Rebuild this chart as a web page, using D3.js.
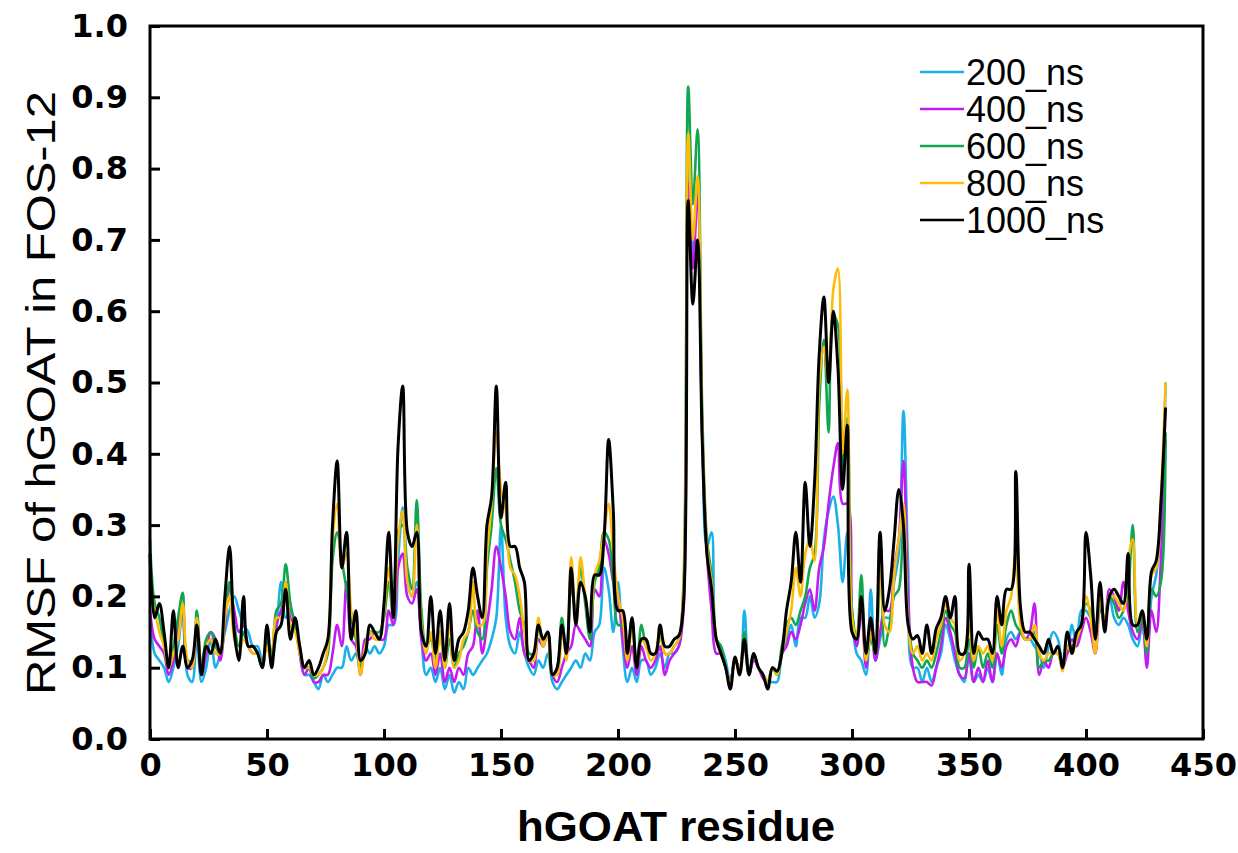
<!DOCTYPE html>
<html>
<head>
<meta charset="utf-8">
<script src="https://cdn.jsdelivr.net/npm/d3@7"></script>
<style>
  body { margin: 0; background: #fff; }
</style>
</head>
<body>
<div id="chart"></div>
<script>
// residues sampled every 2 along the sequence
const residues = d3.range(0, 435, 2);

const ns200 = [
  0.17,0.12,0.11,0.10,0.08,0.10,0.13,0.18,0.09,0.08,
  0.14,0.08,0.10,0.14,0.10,0.12,0.15,0.18,0.20,0.18,
  0.16,0.15,0.13,0.13,0.11,0.13,0.11,0.15,0.22,0.17,
  0.18,0.16,0.12,0.09,0.09,0.08,0.07,0.09,0.08,0.09,
  0.10,0.10,0.13,0.11,0.12,0.10,0.13,0.12,0.13,0.12,
  0.13,0.16,0.16,0.25,0.325,0.22,0.20,0.22,0.14,0.09,
  0.10,0.08,0.10,0.07,0.09,0.065,0.08,0.07,0.10,0.09,
  0.10,0.11,0.12,0.14,0.17,0.30,0.17,0.13,0.12,0.15,
  0.12,0.10,0.09,0.11,0.10,0.12,0.08,0.07,0.08,0.09,
  0.10,0.11,0.10,0.12,0.11,0.15,0.16,0.24,0.21,0.15,
  0.22,0.13,0.08,0.10,0.08,0.11,0.11,0.09,0.10,0.12,
  0.10,0.12,0.12,0.13,0.20,0.80,0.68,0.78,0.43,0.27,
  0.29,0.14,0.13,0.11,0.08,0.11,0.10,0.18,0.09,0.12,
  0.10,0.09,0.08,0.08,0.08,0.12,0.14,0.16,0.13,0.17,
  0.17,0.20,0.17,0.19,0.28,0.32,0.34,0.30,0.22,0.29,
  0.17,0.12,0.11,0.09,0.21,0.11,0.14,0.17,0.17,0.22,
  0.26,0.46,0.24,0.10,0.10,0.08,0.10,0.08,0.10,0.12,
  0.16,0.14,0.11,0.09,0.08,0.12,0.08,0.09,0.08,0.10,
  0.08,0.12,0.09,0.14,0.15,0.14,0.15,0.14,0.14,0.13,
  0.12,0.10,0.13,0.15,0.14,0.11,0.12,0.16,0.13,0.18,
  0.18,0.17,0.16,0.18,0.17,0.20,0.17,0.16,0.17,0.16,
  0.14,0.13,0.16,0.12,0.20,0.23,0.30,0.50
];

const ns400 = [
  0.18,0.14,0.13,0.12,0.09,0.11,0.16,0.19,0.10,0.10,
  0.17,0.09,0.12,0.15,0.14,0.11,0.16,0.21,0.18,0.15,
  0.16,0.13,0.12,0.12,0.10,0.14,0.11,0.16,0.18,0.20,
  0.17,0.16,0.12,0.09,0.10,0.08,0.08,0.09,0.09,0.12,
  0.16,0.13,0.22,0.14,0.13,0.09,0.14,0.14,0.15,0.14,
  0.14,0.18,0.16,0.24,0.26,0.20,0.19,0.21,0.14,0.11,
  0.12,0.09,0.12,0.08,0.10,0.08,0.10,0.09,0.12,0.13,
  0.18,0.12,0.16,0.21,0.27,0.24,0.20,0.15,0.14,0.17,
  0.12,0.11,0.10,0.14,0.13,0.15,0.09,0.08,0.10,0.12,
  0.13,0.16,0.15,0.14,0.13,0.21,0.20,0.28,0.26,0.22,
  0.20,0.14,0.10,0.13,0.09,0.13,0.11,0.10,0.11,0.13,
  0.09,0.11,0.12,0.13,0.18,0.78,0.66,0.76,0.42,0.26,
  0.18,0.12,0.12,0.10,0.08,0.11,0.10,0.13,0.09,0.11,
  0.10,0.085,0.08,0.10,0.09,0.12,0.13,0.15,0.14,0.16,
  0.19,0.21,0.18,0.24,0.27,0.33,0.38,0.415,0.33,0.33,
  0.18,0.13,0.18,0.10,0.16,0.11,0.15,0.18,0.18,0.24,
  0.28,0.39,0.20,0.10,0.08,0.08,0.08,0.075,0.10,0.13,
  0.17,0.15,0.12,0.09,0.085,0.12,0.08,0.10,0.08,0.11,
  0.08,0.12,0.10,0.13,0.14,0.13,0.15,0.14,0.15,0.19,
  0.09,0.11,0.10,0.12,0.12,0.10,0.12,0.14,0.13,0.15,
  0.17,0.15,0.12,0.19,0.16,0.21,0.20,0.18,0.22,0.18,
  0.15,0.14,0.17,0.10,0.18,0.15,0.25,0.42
];

const ns600 = [
  0.28,0.19,0.17,0.13,0.10,0.13,0.17,0.205,0.11,0.11,
  0.18,0.10,0.14,0.15,0.13,0.12,0.17,0.22,0.16,0.13,
  0.15,0.13,0.13,0.12,0.10,0.14,0.12,0.18,0.19,0.245,
  0.19,0.16,0.13,0.10,0.10,0.085,0.09,0.10,0.12,0.25,
  0.29,0.25,0.21,0.17,0.14,0.10,0.13,0.15,0.15,0.15,
  0.17,0.22,0.17,0.29,0.30,0.24,0.21,0.335,0.18,0.13,
  0.14,0.11,0.15,0.10,0.14,0.10,0.12,0.13,0.15,0.18,
  0.15,0.14,0.24,0.30,0.38,0.30,0.28,0.25,0.22,0.18,
  0.16,0.12,0.12,0.16,0.13,0.15,0.09,0.10,0.17,0.12,
  0.21,0.18,0.24,0.19,0.14,0.22,0.24,0.29,0.28,0.22,
  0.16,0.16,0.11,0.17,0.10,0.16,0.13,0.12,0.12,0.15,
  0.12,0.12,0.13,0.14,0.22,0.915,0.75,0.855,0.46,0.28,
  0.23,0.14,0.13,0.10,0.08,0.11,0.10,0.15,0.09,0.12,
  0.10,0.09,0.08,0.10,0.09,0.13,0.16,0.17,0.16,0.18,
  0.20,0.24,0.26,0.47,0.56,0.43,0.595,0.58,0.38,0.45,
  0.18,0.14,0.23,0.11,0.14,0.12,0.29,0.13,0.16,0.20,
  0.21,0.30,0.17,0.12,0.11,0.10,0.11,0.10,0.12,0.15,
  0.18,0.16,0.15,0.10,0.10,0.14,0.10,0.13,0.10,0.12,
  0.10,0.16,0.12,0.16,0.18,0.16,0.15,0.14,0.14,0.15,
  0.10,0.11,0.11,0.12,0.12,0.10,0.13,0.13,0.14,0.16,
  0.19,0.18,0.14,0.19,0.16,0.20,0.19,0.17,0.18,0.21,
  0.30,0.15,0.17,0.12,0.21,0.20,0.22,0.43
];

const ns800 = [
  0.20,0.18,0.15,0.13,0.10,0.12,0.14,0.19,0.11,0.10,
  0.17,0.10,0.13,0.14,0.12,0.12,0.17,0.20,0.14,0.12,
  0.14,0.13,0.12,0.12,0.10,0.13,0.11,0.17,0.17,0.22,
  0.16,0.15,0.12,0.10,0.10,0.09,0.09,0.10,0.13,0.28,
  0.33,0.24,0.26,0.18,0.15,0.09,0.13,0.15,0.14,0.14,
  0.18,0.24,0.17,0.28,0.32,0.22,0.20,0.30,0.16,0.12,
  0.15,0.10,0.15,0.10,0.17,0.10,0.11,0.14,0.15,0.22,
  0.16,0.16,0.26,0.33,0.43,0.35,0.32,0.24,0.23,0.20,
  0.15,0.11,0.11,0.17,0.13,0.15,0.09,0.09,0.16,0.11,
  0.255,0.16,0.255,0.20,0.16,0.23,0.25,0.29,0.33,0.26,
  0.20,0.17,0.11,0.16,0.10,0.14,0.13,0.11,0.12,0.15,
  0.12,0.12,0.13,0.14,0.21,0.85,0.70,0.79,0.44,0.27,
  0.22,0.14,0.12,0.10,0.075,0.11,0.10,0.14,0.09,0.12,
  0.10,0.09,0.08,0.10,0.09,0.12,0.15,0.18,0.24,0.20,
  0.26,0.28,0.25,0.50,0.55,0.50,0.63,0.66,0.40,0.49,
  0.17,0.14,0.20,0.11,0.15,0.12,0.28,0.16,0.15,0.23,
  0.28,0.33,0.16,0.12,0.13,0.11,0.12,0.11,0.14,0.16,
  0.19,0.17,0.16,0.11,0.12,0.16,0.11,0.13,0.12,0.13,
  0.11,0.18,0.13,0.18,0.20,0.26,0.16,0.14,0.14,0.16,
  0.12,0.11,0.12,0.12,0.12,0.095,0.13,0.12,0.14,0.16,
  0.20,0.17,0.12,0.20,0.16,0.20,0.20,0.19,0.18,0.25,
  0.28,0.16,0.18,0.13,0.23,0.24,0.34,0.50
];

const ns1000 = [
  0.26,0.17,0.19,0.15,0.10,0.18,0.10,0.13,0.10,0.11,
  0.16,0.09,0.13,0.12,0.14,0.12,0.20,0.27,0.15,0.11,
  0.20,0.13,0.13,0.12,0.10,0.16,0.10,0.15,0.16,0.21,
  0.14,0.17,0.13,0.10,0.11,0.09,0.10,0.12,0.14,0.30,
  0.39,0.24,0.29,0.14,0.18,0.11,0.12,0.16,0.15,0.14,
  0.19,0.29,0.17,0.41,0.495,0.29,0.27,0.29,0.15,0.13,
  0.20,0.12,0.18,0.11,0.19,0.11,0.14,0.15,0.18,0.24,
  0.20,0.17,0.30,0.34,0.495,0.31,0.36,0.27,0.27,0.24,
  0.22,0.11,0.12,0.16,0.14,0.15,0.09,0.10,0.16,0.12,
  0.24,0.16,0.22,0.20,0.15,0.23,0.23,0.28,0.42,0.32,
  0.18,0.18,0.12,0.17,0.10,0.14,0.14,0.12,0.12,0.16,
  0.13,0.13,0.14,0.145,0.19,0.755,0.61,0.70,0.42,0.26,
  0.21,0.14,0.12,0.10,0.07,0.115,0.09,0.14,0.09,0.12,
  0.10,0.09,0.07,0.10,0.095,0.12,0.18,0.22,0.29,0.22,
  0.36,0.27,0.36,0.54,0.62,0.50,0.60,0.52,0.35,0.44,
  0.15,0.14,0.20,0.12,0.17,0.12,0.29,0.18,0.21,0.28,
  0.35,0.30,0.16,0.14,0.145,0.12,0.16,0.12,0.155,0.17,
  0.20,0.17,0.20,0.12,0.12,0.245,0.12,0.15,0.14,0.14,
  0.12,0.20,0.16,0.21,0.21,0.375,0.185,0.15,0.15,0.14,
  0.13,0.12,0.14,0.12,0.13,0.10,0.15,0.12,0.15,0.16,
  0.29,0.23,0.14,0.22,0.15,0.20,0.21,0.20,0.19,0.26,
  0.16,0.16,0.18,0.14,0.235,0.25,0.33,0.465
];

const seriesNames = ["200_ns", "400_ns", "600_ns", "800_ns", "1000_ns"];
const seriesValues = [ns200, ns400, ns600, ns800, ns1000];
const seriesColors = ["#1cb0e8", "#c21cf2", "#13a651", "#fbbd0a", "#000000"];
const xTicks = [0, 50, 100, 150, 200, 250, 300, 350, 400, 450];
const yTicks = [0, 0.1, 0.2, 0.3, 0.4, 0.5, 0.6, 0.7, 0.8, 0.9, 1.0];

const width = 1238, height = 853;
const margin = { left: 150, right: 35, top: 26, bottom: 114 };

const svg = d3.select('#chart')
  .append('svg')
  .attr('width', width)
  .attr('height', height)
  .style('background', '#fff');

const x = d3.scaleLinear().domain([0, 450]).range([margin.left, width - margin.right]);
const y = d3.scaleLinear().domain([0, 1]).range([height - margin.bottom, margin.top]);

const tickFont = "'DejaVu Sans', sans-serif";

// lines first, frame and ticks on top
const line = d3.line()
  .x((d, i) => x(residues[i]))
  .y(d => y(d))
  .curve(d3.curveCatmullRom.alpha(0.5));

const plot = svg.append('g');
seriesValues.forEach((vals, k) => {
  plot.append('path')
    .datum(vals)
    .attr('fill', 'none')
    .attr('stroke', seriesColors[k])
    .attr('stroke-width', k === 4 ? 3 : 2.6)
    .attr('stroke-linejoin', 'round')
    .attr('d', line);
});

// axes with inward ticks
const yAxis = svg.append('g')
  .attr('transform', `translate(${margin.left},0)`)
  .call(d3.axisLeft(y).tickValues(yTicks).tickSize(-10).tickPadding(22).tickFormat(d3.format('.1f')));

const xAxis = svg.append('g')
  .attr('transform', `translate(0,${height - margin.bottom})`)
  .call(d3.axisBottom(x).tickValues(xTicks).tickSize(-10).tickPadding(14));

[yAxis, xAxis].forEach(g => {
  g.select('.domain').remove();
  g.selectAll('.tick line').attr('stroke', '#000').attr('stroke-width', 3);
  g.selectAll('.tick text')
    .attr('fill', '#000')
    .style('font-family', tickFont)
    .style('font-weight', 'bold')
    .style('font-size', '32px');
});

// frame
svg.append('rect')
  .attr('x', margin.left)
  .attr('y', margin.top)
  .attr('width', width - margin.left - margin.right)
  .attr('height', height - margin.top - margin.bottom)
  .attr('fill', 'none')
  .attr('stroke', '#000')
  .attr('stroke-width', 3);

// axis titles
svg.append('text')
  .attr('x', 676)
  .attr('y', 841)
  .attr('text-anchor', 'middle')
  .attr('textLength', 318)
  .attr('lengthAdjust', 'spacingAndGlyphs')
  .style('font-family', "'Liberation Sans', Arial, sans-serif")
  .style('font-weight', 'bold')
  .style('font-size', '42px')
  .text('hGOAT residue');

svg.append('text')
  .attr('transform', 'translate(55,393) rotate(-90)')
  .attr('text-anchor', 'middle')
  .attr('textLength', 604)
  .attr('lengthAdjust', 'spacingAndGlyphs')
  .style('font-family', "'Liberation Sans Narrow', 'Liberation Sans', Arial, sans-serif")
  .style('font-size', '40px')
  .text('RMSF of hGOAT in FOS-12');

// legend
const legend = svg.append('g');
seriesNames.forEach((name, k) => {
  const cy = 72 + k * 37;
  legend.append('line')
    .attr('x1', 920).attr('x2', 964)
    .attr('y1', cy).attr('y2', cy)
    .attr('stroke', seriesColors[k])
    .attr('stroke-width', 2.5);
  legend.append('text')
    .attr('x', 966)
    .attr('y', cy + 13)
    .style('font-family', "'Liberation Sans', Arial, sans-serif")
    .style('font-size', '36px')
    .text(name);
});
</script>
</body>
</html>
